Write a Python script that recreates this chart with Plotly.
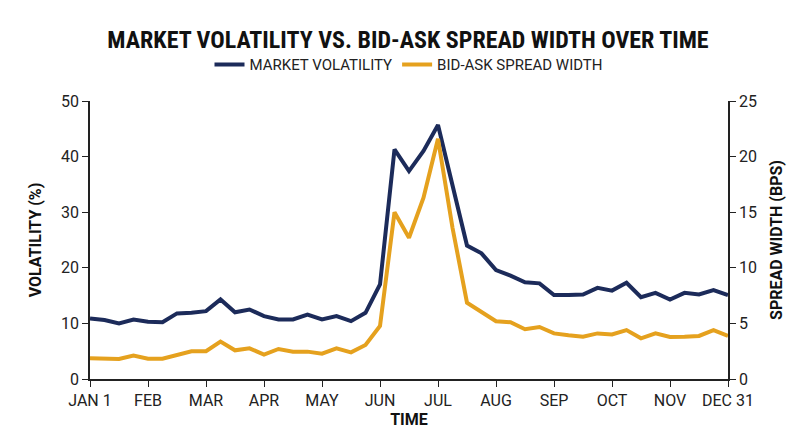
import plotly.graph_objects as go

idx = list(range(45))
volatility = [10.9,10.6,10.0,10.7,10.3,10.2,11.8,11.9,12.2,14.3,12.0,12.5,11.3,10.7,10.7,11.6,10.7,11.3,10.4,11.9,17.0,41.3,
              37.4,41.0,45.7,35.0,24.0,22.6,19.6,18.6,17.4,17.2,15.1,15.1,15.2,16.4,15.9,17.3,14.7,15.5,14.3,15.5,15.2,16.0,15.1]
spread = [1.86,1.86,1.8,2.1,1.83,1.83,2.2,2.5,2.5,3.36,2.58,2.76,2.2,2.7,2.46,2.46,2.28,2.76,2.4,3.06,4.77,15.0,
          12.7,16.3,21.6,13.6,6.86,6.0,5.2,5.1,4.47,4.68,4.1,3.93,3.8,4.1,4.0,4.4,3.66,4.1,3.78,3.8,3.87,4.4,3.87]
tick_pos = [0,4,8,12,16,20,24,28,32,36,40,44]
tick_labels = ["JAN 1","FEB","MAR","APR","MAY","JUN","JUL","AUG","SEP","OCT","NOV","DEC 31"]

navy = "#1c2b5a"
gold = "#e5a11e"
fig = go.Figure()
fig.add_trace(go.Scatter(x=idx, y=volatility, mode="lines", name="MARKET VOLATILITY",
                         line=dict(color=navy, width=4)))
fig.add_trace(go.Scatter(x=idx, y=spread, mode="lines", name="BID-ASK SPREAD WIDTH",
                         line=dict(color=gold, width=4), yaxis="y2"))
axfont = dict(family="Roboto", size=16, color="#222")
tfont = dict(family="Roboto", size=16, color="#111")
fig.update_layout(
    width=800, height=447, paper_bgcolor="white", plot_bgcolor="white",
    margin=dict(l=82, r=80, t=93, b=76),
    title=dict(text="<b>MARKET VOLATILITY VS. BID-ASK SPREAD WIDTH OVER TIME</b>", x=0.5, xanchor="center",
               y=0.93, yanchor="middle", font=dict(family="Roboto Condensed, Roboto", size=24, color="#111")),
    legend=dict(orientation="h", x=0.5, xanchor="center", y=1.13, yanchor="middle",
                font=dict(family="Roboto", size=15, color="#222")),
    xaxis=dict(range=[0,44], tickvals=tick_pos, ticktext=tick_labels, showgrid=False, showline=True,
               linecolor="#222", linewidth=1.5, ticks="outside", ticklen=6, tickcolor="#222", tickfont=axfont,
               title=dict(text="<b>TIME</b>", font=tfont, standoff=4)),
    yaxis=dict(range=[0,50], dtick=10, showgrid=False, showline=True, linecolor="#222", linewidth=1.5,
               ticks="outside", ticklen=6, tickcolor="#222", tickfont=axfont, zeroline=False,
               title=dict(text="<b>VOLATILITY (%)</b>", font=tfont)),
    yaxis2=dict(range=[0,25], dtick=5, overlaying="y", side="right", showgrid=False, showline=True,
                linecolor="#222", linewidth=1.5, ticks="outside", ticklen=6, tickcolor="#222", tickfont=axfont,
                zeroline=False,
                title=dict(text="<b>SPREAD WIDTH (BPS)</b>", font=tfont)),
)
fig.write_html("out.html")
